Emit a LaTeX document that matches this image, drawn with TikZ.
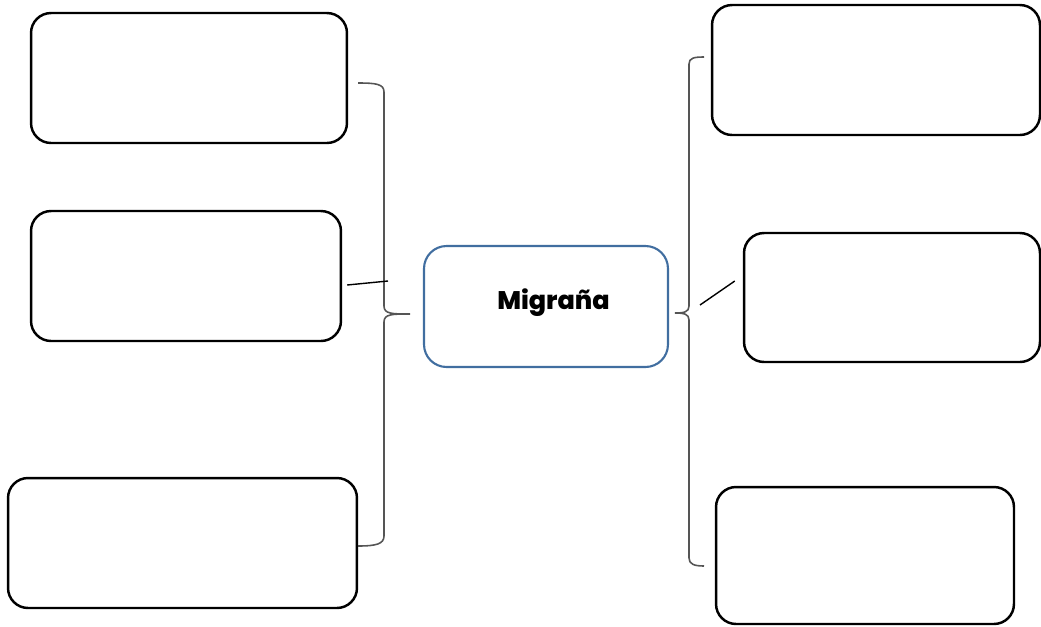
\documentclass[tikz,border=0pt]{standalone}
\usepackage{fontspec}
\newfontfamily\hubfont{Poppins}[BoldFont={Poppins ExtraBold}]
\definecolor{hubblue}{RGB}{65, 110, 160}
\definecolor{bracegray}{RGB}{85, 85, 85}
\usetikzlibrary{positioning, calc}

\begin{document}
\begin{tikzpicture}[
    x=0.02cm, y=-0.02cm,
    box/.style={draw=black, line width=1.4pt, rounded corners=0.4cm, fill=white},
    hub/.style={draw=hubblue, line width=1.2pt, rounded corners=0.45cm, align=center, font=\hubfont\bfseries\fontsize{14.5}{18}\selectfont},
    brace/.style={draw=bracegray, line width=0.9pt},
    tick/.style={draw=black, line width=0.8pt}
]
    \useasboundingbox (0,0) rectangle (1041,626);

    % Center
    \node[hub, minimum width=4.88cm, minimum height=2.42cm] (mig) at (546,306.5) {\raisebox{0.3cm}{\hspace{0.3cm}Migraña}};

    % Left boxes
    \node[box, minimum width=6.32cm, minimum height=2.6cm] (l1) at (189,78) {};
    \node[box, minimum width=6.2cm, minimum height=2.6cm] (l2) at (186,276) {};
    \node[box, minimum width=6.98cm, minimum height=2.6cm] (l3) at (182.5,543) {};

    % Right boxes
    \node[box, minimum width=6.56cm, minimum height=2.6cm] (r1) at (876,70) {};
    \node[box, minimum width=5.92cm, minimum height=2.58cm] (r2) at (892,297.5) {};
    \node[box, minimum width=5.96cm, minimum height=2.74cm] (r3) at (865,555.5) {};

    % Left brace
    \coordinate (ltop) at (358,83);
    \coordinate (ltip) at (410,314);
    \coordinate (lbot) at (358,546);
    \draw[brace] (ltop) .. controls (376,83) and (384,84) .. (384,92)
        -- (384,306) .. controls (384,314) and (392,314) .. (ltip)
        .. controls (392,314) and (384,314) .. (384,322)
        -- (384,536) .. controls (384,544) and (376,546) .. (lbot);

    % Right brace
    \coordinate (rtop) at (704,57);
    \coordinate (rtip) at (675,313);
    \coordinate (rbot) at (704,566);
    \draw[brace] (rtop) .. controls (694,57) and (689,58) .. (689,64)
        -- (689,306) .. controls (689,312) and (684,313) .. (rtip)
        .. controls (684,313) and (689,314) .. (689,320)
        -- (689,558) .. controls (689,564) and (694,566) .. (rbot);

    % Short lines
    \coordinate (lmid) at (388,281);
    \draw[tick] ($(l2.east)+(5,9)$) -- (lmid);
    \coordinate (rmid) at (700,305);
    \draw[tick] (rmid) -- ($(r2.west)+(-8,-16.5)$);
\end{tikzpicture}
\end{document}
